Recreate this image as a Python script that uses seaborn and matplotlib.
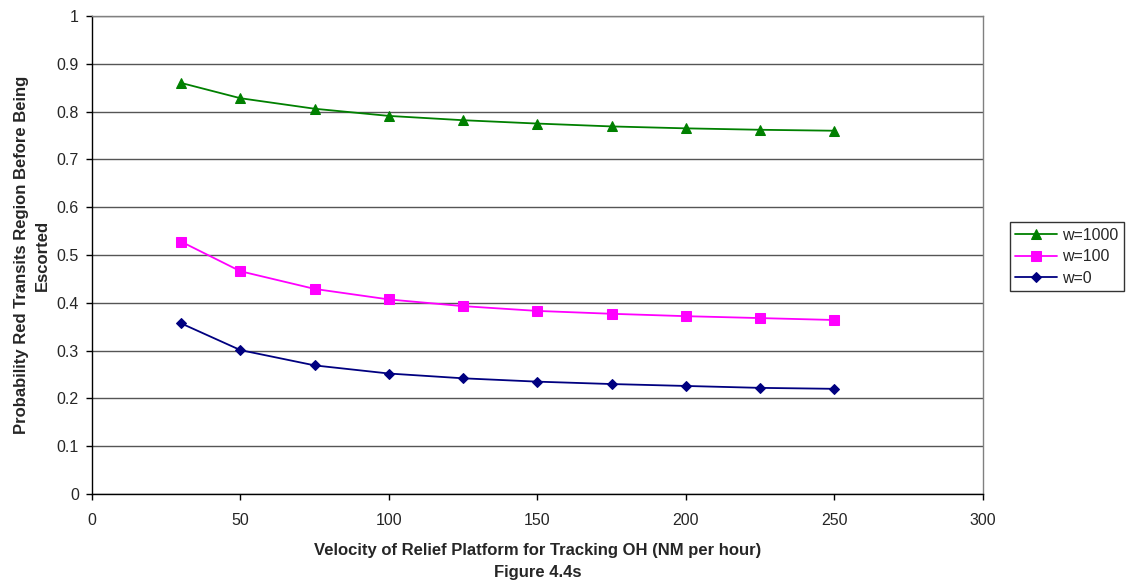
import pandas as pd
import seaborn as sns
import matplotlib.pyplot as plt

# velocities and probabilities
velocity = [30, 50, 75, 100, 125, 150, 175, 200, 225, 250]
w1000 = [0.860, 0.828, 0.806, 0.791, 0.782, 0.775, 0.769, 0.765, 0.762, 0.760]
w100 = [0.528, 0.466, 0.429, 0.407, 0.393, 0.383, 0.377, 0.372, 0.368, 0.364]
w0 = [0.357, 0.301, 0.269, 0.252, 0.242, 0.235, 0.230, 0.226, 0.222, 0.220]
series_names = ['w=1000', 'w=100', 'w=0']

df = pd.concat([
    pd.DataFrame({'v': velocity, 'p': vals, 'series': name})
    for name, vals in zip(series_names, [w1000, w100, w0])
])

sns.set_style("white")
plt.rcParams['font.family'] = ['Liberation Sans', 'DejaVu Sans']

fig = plt.figure(figsize=(11.27, 5.85), dpi=100)
ax = fig.add_axes([0.0816, 0.1556, 0.7906, 0.817])

palette = {'w=1000': '#008000', 'w=100': '#FF00FF', 'w=0': '#000080'}
markers = {'w=1000': '^', 'w=100': 's', 'w=0': 'D'}
sizes = {'w=1000': 7, 'w=100': 7, 'w=0': 5.5}

for name in series_names:
    sub = df[df['series'] == name]
    sns.lineplot(data=sub, x='v', y='p', ax=ax, color=palette[name], marker=markers[name],
                 markersize=sizes[name], markeredgecolor=palette[name], linewidth=1.3, label=name)

ax.set_xlim(0, 300)
ax.set_ylim(0, 1)
ax.set_xticks(range(0, 301, 50))
ax.set_yticks([i / 10 for i in range(11)])
ax.set_yticklabels(['0'] + [f'{i / 10:g}' for i in range(1, 10)] + ['1'])
ax.yaxis.grid(True, color='#555555', linewidth=1.0)
ax.set_axisbelow(True)

for s in ['left', 'bottom']:
    ax.spines[s].set_color('black')
    ax.spines[s].set_linewidth(1.0)
for s in ['top', 'right']:
    ax.spines[s].set_color('#808080')
    ax.spines[s].set_linewidth(1.0)

ax.tick_params(axis='both', direction='out', length=4.5, width=1, color='black',
               labelsize=11.5, left=True, bottom=True)
ax.tick_params(axis='x', pad=9)
ax.tick_params(axis='y', pad=5)

ax.set_xlabel("Velocity of Relief Platform for Tracking OH (NM per hour)\nFigure 4.4s",
              fontsize=12, fontweight='bold', labelpad=11, linespacing=1.55)
ax.set_ylabel("Probability Red Transits Region Before Being\nEscorted",
              fontsize=12, fontweight='bold', labelpad=5, linespacing=1.45)

leg = ax.legend(loc='center left', bbox_to_anchor=(1.030, 0.496), frameon=True, fontsize=11.5,
                handlelength=2.6, borderpad=0.35, labelspacing=0.4, fancybox=False,
                handletextpad=0.35, borderaxespad=0)
leg.get_frame().set_edgecolor('black')
leg.get_frame().set_linewidth(1.0)

fig.savefig('out.png', dpi=100)
